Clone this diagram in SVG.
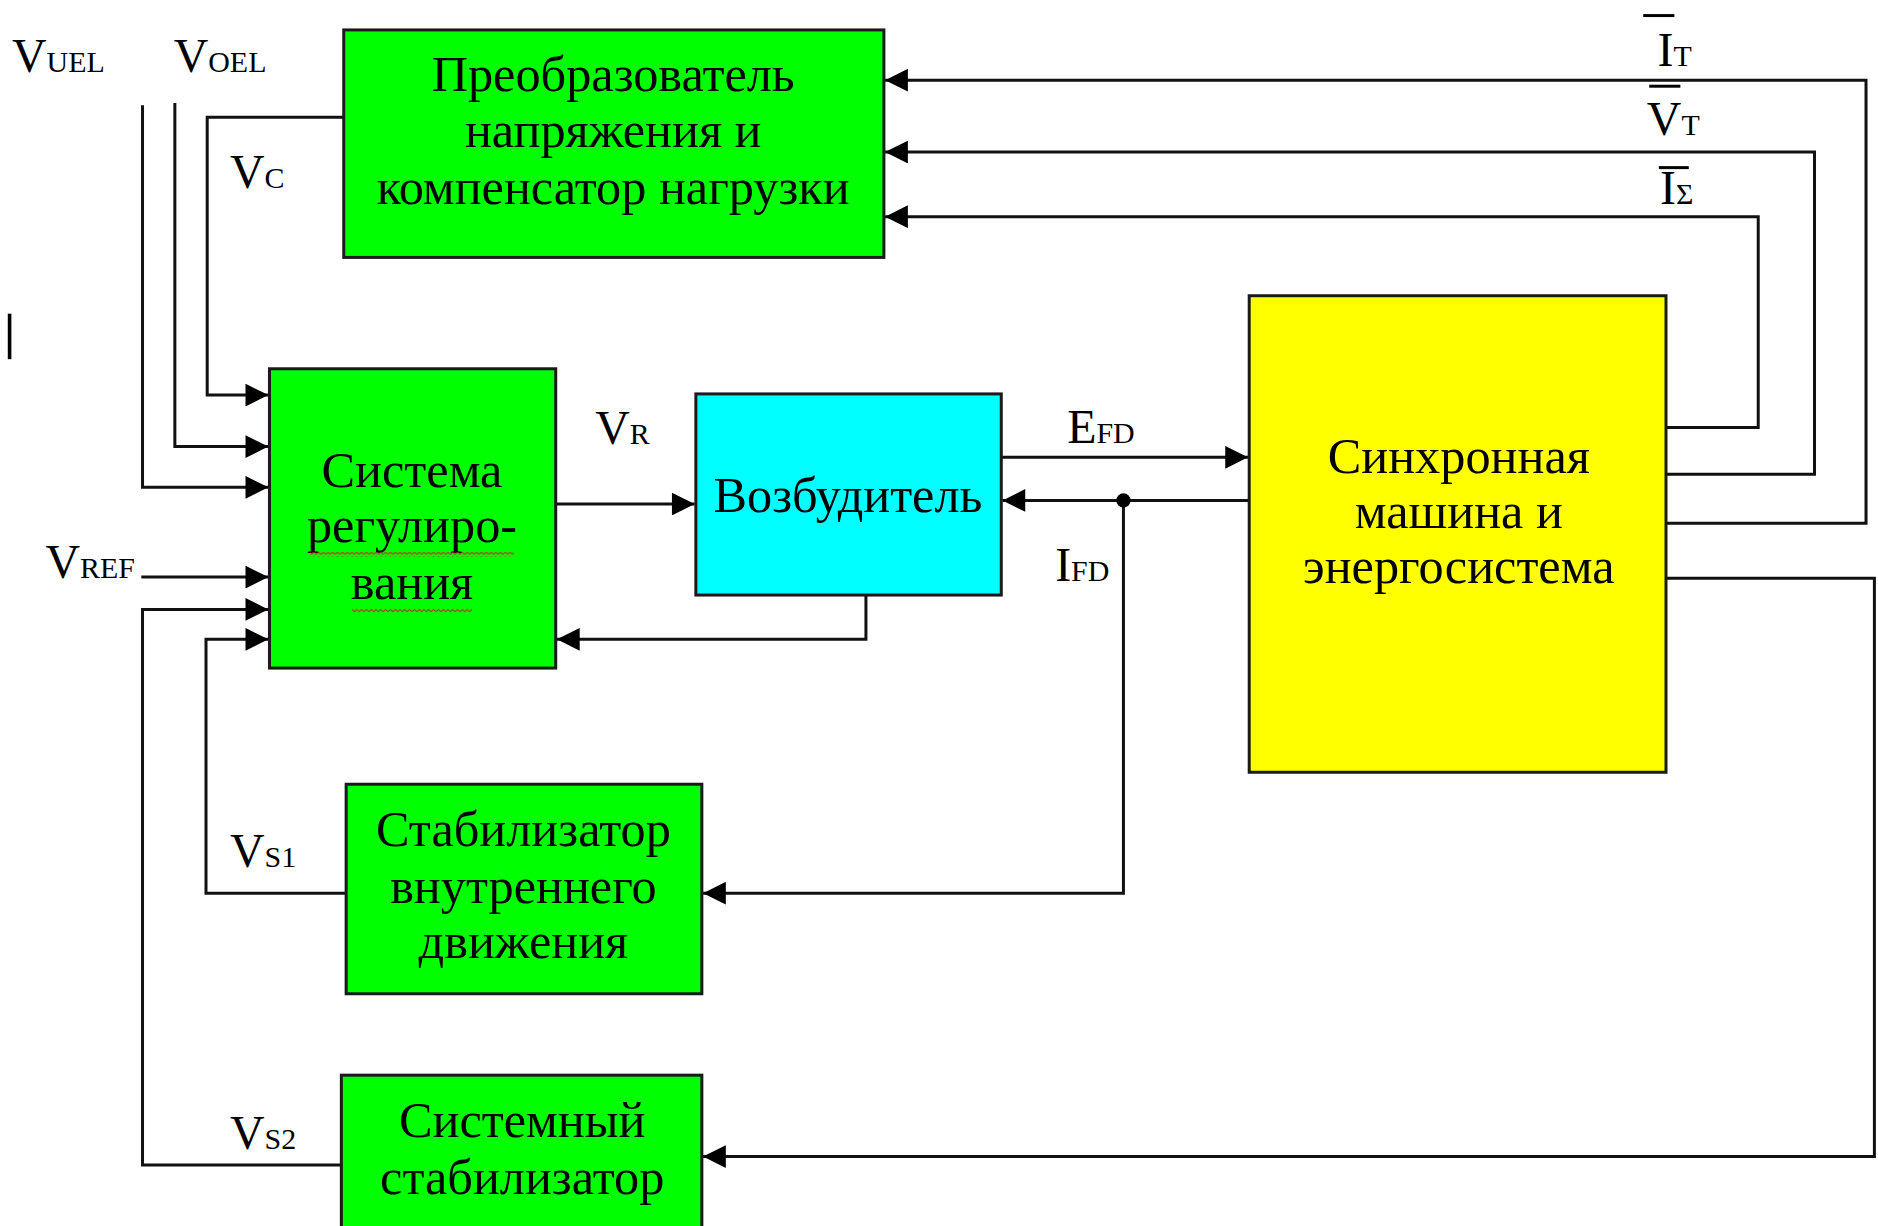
<svg xmlns="http://www.w3.org/2000/svg" width="1878" height="1226" viewBox="0 0 1878 1226">
<style>
.box{stroke:#1a1a1a;stroke-width:2.5}
.g{fill:#00ff00}
.c{fill:#00ffff}
.y{fill:#ffff00}
.bt{font-family:"Liberation Serif","Times New Roman",serif;font-size:42px;fill:#000;text-anchor:middle}
.lb{font-family:"Liberation Serif","Times New Roman",serif;font-size:40px;fill:#000}
.sb{font-size:25px}
.ln{fill:none;stroke:#111;stroke-width:2.5}
.ar{marker-end:url(#arr)}
</style>
<defs>
<marker id="arr" viewBox="0 0 10 10" refX="10" refY="5" markerWidth="21" markerHeight="19" markerUnits="userSpaceOnUse" orient="auto">
<path d="M0,0 L10,5 L0,10 z" fill="#000"/>
</marker>
<pattern id="wave" width="4" height="4" patternUnits="userSpaceOnUse">
<path d="M0,3 L2,1 L4,3" fill="none" stroke="#c03020" stroke-width="0.9"/>
</pattern>
</defs>
<rect width="1878" height="1226" fill="#fff"/>
<g transform="scale(1.1977,1.1973)">
<g id="connectors">
<path class="ln ar" d="M119,88 V407 H224"/>
<path class="ln ar" d="M146,86 V373 H224"/>
<path class="ln ar" d="M287,98 H173 V330 H224"/>
<path class="ln ar" d="M118,482 H224"/>
<path class="ln ar" d="M285,973 H119 V509 H224"/>
<path class="ln ar" d="M289,746 H172 V534 H224"/>
<path class="ln ar" d="M464,421 H580"/>
<path class="ln ar" d="M723,497 V534 H465"/>
<path class="ln ar" d="M834,382 H1042"/>
<path class="ln ar" d="M1043,418 H837"/>
<path class="ln ar" d="M938,418 V746 H587"/>
<path class="ln ar" d="M1391,357 H1468 V181 H739"/>
<path class="ln ar" d="M1386,396 H1515 V127 H739"/>
<path class="ln ar" d="M1391,437 H1558 V67 H739"/>
<path class="ln ar" d="M1391,483 H1565 V966 H587"/>
<circle cx="938" cy="418" r="6" fill="#000"/>
</g>
<g id="n-converter">
<rect class="box g" x="287" y="25" width="451" height="190"/>
<text class="bt" x="512" y="76">Преобразователь</text>
<text class="bt" x="512" y="123">напряжения и</text>
<text class="bt" x="512" y="170">компенсатор нагрузки</text>
</g>
<g id="n-regulator">
<rect class="box g" x="225" y="308" width="239" height="250"/>
<text class="bt" x="344" y="407">Система</text>
<text class="bt" x="344" y="453">регулиро-</text>
<text class="bt" x="344" y="500">вания</text>
<rect x="259" y="461" width="170" height="4" fill="url(#wave)"/>
<rect x="294" y="508" width="100" height="4" fill="url(#wave)"/>
</g>
<g id="n-exciter">
<rect class="box c" x="581" y="329" width="255" height="168"/>
<text class="bt" x="708" y="428">Возбудитель</text>
</g>
<g id="n-machine">
<rect class="box y" x="1043" y="247" width="348" height="398"/>
<text class="bt" x="1218" y="395">Синхронная</text>
<text class="bt" x="1218" y="441">машина и</text>
<text class="bt" x="1218" y="487">энергосистема</text>
</g>
<g id="n-pss1">
<rect class="box g" x="289" y="655" width="297" height="175"/>
<text class="bt" x="437" y="707">Стабилизатор</text>
<text class="bt" x="437" y="754">внутреннего</text>
<text class="bt" x="437" y="800">движения</text>
</g>
<g id="n-pss2">
<rect class="box g" x="285" y="898" width="301" height="140"/>
<text class="bt" x="436" y="950">Системный</text>
<text class="bt" x="436" y="997">стабилизатор</text>
</g>
<g id="labels">
<text class="lb" x="10" y="60">V<tspan class="sb">UEL</tspan></text>
<text class="lb" x="145" y="60">V<tspan class="sb">OEL</tspan></text>
<text class="lb" x="192" y="157">V<tspan class="sb">C</tspan></text>
<text class="lb" x="497" y="371">V<tspan class="sb">R</tspan></text>
<text class="lb" x="38" y="483">V<tspan class="sb">REF</tspan></text>
<text class="lb" x="891" y="370">E<tspan class="sb">FD</tspan></text>
<text class="lb" x="881" y="485">I<tspan class="sb">FD</tspan></text>
<text class="lb" x="192" y="724">V<tspan class="sb">S1</tspan></text>
<text class="lb" x="192" y="960">V<tspan class="sb">S2</tspan></text>
<text class="lb" x="1384" y="55">I<tspan class="sb">T</tspan></text>
<line x1="1372" y1="13" x2="1398" y2="13" stroke="#000" stroke-width="2.5"/>
<text class="lb" x="1375" y="113">V<tspan class="sb">T</tspan></text>
<line x1="1377" y1="72" x2="1403" y2="72" stroke="#000" stroke-width="2.5"/>
<text class="lb" x="1386" y="170">I<tspan class="sb">Σ</tspan></text>
<line x1="1385" y1="140" x2="1410" y2="140" stroke="#000" stroke-width="2.5"/>
</g>
<line x1="8" y1="262" x2="8" y2="300" stroke="#000" stroke-width="3"/>
</g>
</svg>
